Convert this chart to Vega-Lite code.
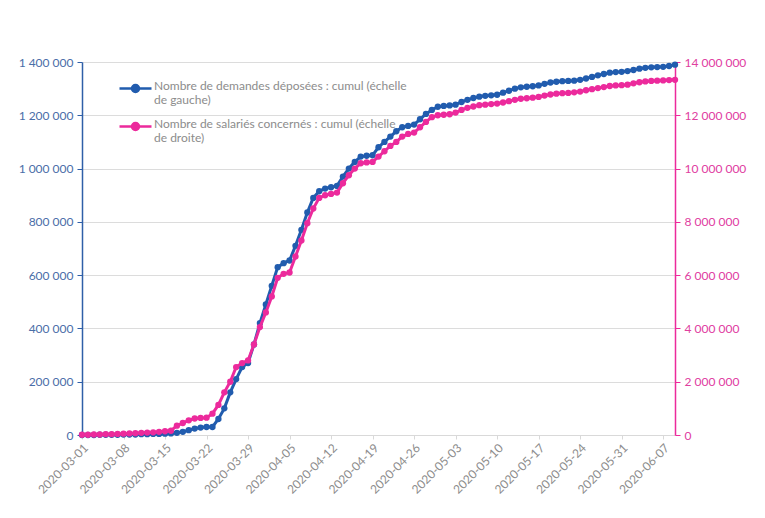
{
  "$schema": "https://vega.github.io/schema/vega-lite/v6.json",
  "width": 593,
  "height": 373,
  "autosize": {"type": "none"},
  "padding": {"left": 82, "top": 62, "right": 90, "bottom": 83},
  "background": "white",
  "config": {
    "font": "Lato",
    "view": {"stroke": null},
    "axis": {"labelFont": "Lato", "labelFontSize": 12}
  },
  "data": {
    "values": [
      {"date": "2020-03-01", "demandes": 0, "salaries": 10000},
      {"date": "2020-03-02", "demandes": 0, "salaries": 10000},
      {"date": "2020-03-03", "demandes": 0, "salaries": 20000},
      {"date": "2020-03-04", "demandes": 1000, "salaries": 20000},
      {"date": "2020-03-05", "demandes": 1000, "salaries": 30000},
      {"date": "2020-03-06", "demandes": 1000, "salaries": 30000},
      {"date": "2020-03-07", "demandes": 1000, "salaries": 40000},
      {"date": "2020-03-08", "demandes": 2000, "salaries": 50000},
      {"date": "2020-03-09", "demandes": 2000, "salaries": 60000},
      {"date": "2020-03-10", "demandes": 2000, "salaries": 70000},
      {"date": "2020-03-11", "demandes": 3000, "salaries": 80000},
      {"date": "2020-03-12", "demandes": 3000, "salaries": 90000},
      {"date": "2020-03-13", "demandes": 4000, "salaries": 100000},
      {"date": "2020-03-14", "demandes": 4000, "salaries": 120000},
      {"date": "2020-03-15", "demandes": 5000, "salaries": 140000},
      {"date": "2020-03-16", "demandes": 6000, "salaries": 160000},
      {"date": "2020-03-17", "demandes": 8000, "salaries": 350000},
      {"date": "2020-03-18", "demandes": 12000, "salaries": 450000},
      {"date": "2020-03-19", "demandes": 18000, "salaries": 550000},
      {"date": "2020-03-20", "demandes": 24000, "salaries": 620000},
      {"date": "2020-03-21", "demandes": 28000, "salaries": 640000},
      {"date": "2020-03-22", "demandes": 30000, "salaries": 650000},
      {"date": "2020-03-23", "demandes": 30000, "salaries": 800000},
      {"date": "2020-03-24", "demandes": 60000, "salaries": 1130000},
      {"date": "2020-03-25", "demandes": 100000, "salaries": 1600000},
      {"date": "2020-03-26", "demandes": 160000, "salaries": 2000000},
      {"date": "2020-03-27", "demandes": 210000, "salaries": 2550000},
      {"date": "2020-03-28", "demandes": 255000, "salaries": 2700000},
      {"date": "2020-03-29", "demandes": 270000, "salaries": 2800000},
      {"date": "2020-03-30", "demandes": 340000, "salaries": 3400000},
      {"date": "2020-03-31", "demandes": 420000, "salaries": 4050000},
      {"date": "2020-04-01", "demandes": 490000, "salaries": 4600000},
      {"date": "2020-04-02", "demandes": 560000, "salaries": 5200000},
      {"date": "2020-04-03", "demandes": 630000, "salaries": 5900000},
      {"date": "2020-04-04", "demandes": 645000, "salaries": 6050000},
      {"date": "2020-04-05", "demandes": 655000, "salaries": 6100000},
      {"date": "2020-04-06", "demandes": 710000, "salaries": 6700000},
      {"date": "2020-04-07", "demandes": 770000, "salaries": 7300000},
      {"date": "2020-04-08", "demandes": 835000, "salaries": 7950000},
      {"date": "2020-04-09", "demandes": 890000, "salaries": 8500000},
      {"date": "2020-04-10", "demandes": 915000, "salaries": 8900000},
      {"date": "2020-04-11", "demandes": 925000, "salaries": 9000000},
      {"date": "2020-04-12", "demandes": 930000, "salaries": 9050000},
      {"date": "2020-04-13", "demandes": 935000, "salaries": 9100000},
      {"date": "2020-04-14", "demandes": 970000, "salaries": 9450000},
      {"date": "2020-04-15", "demandes": 1000000, "salaries": 9750000},
      {"date": "2020-04-16", "demandes": 1025000, "salaries": 10000000},
      {"date": "2020-04-17", "demandes": 1045000, "salaries": 10200000},
      {"date": "2020-04-18", "demandes": 1048000, "salaries": 10230000},
      {"date": "2020-04-19", "demandes": 1050000, "salaries": 10250000},
      {"date": "2020-04-20", "demandes": 1080000, "salaries": 10450000},
      {"date": "2020-04-21", "demandes": 1100000, "salaries": 10650000},
      {"date": "2020-04-22", "demandes": 1120000, "salaries": 10850000},
      {"date": "2020-04-23", "demandes": 1140000, "salaries": 11000000},
      {"date": "2020-04-24", "demandes": 1155000, "salaries": 11200000},
      {"date": "2020-04-25", "demandes": 1160000, "salaries": 11300000},
      {"date": "2020-04-26", "demandes": 1165000, "salaries": 11350000},
      {"date": "2020-04-27", "demandes": 1185000, "salaries": 11550000},
      {"date": "2020-04-28", "demandes": 1205000, "salaries": 11750000},
      {"date": "2020-04-29", "demandes": 1220000, "salaries": 11930000},
      {"date": "2020-04-30", "demandes": 1232000, "salaries": 12000000},
      {"date": "2020-05-01", "demandes": 1235000, "salaries": 12020000},
      {"date": "2020-05-02", "demandes": 1237000, "salaries": 12040000},
      {"date": "2020-05-03", "demandes": 1240000, "salaries": 12100000},
      {"date": "2020-05-04", "demandes": 1250000, "salaries": 12200000},
      {"date": "2020-05-05", "demandes": 1258000, "salaries": 12280000},
      {"date": "2020-05-06", "demandes": 1265000, "salaries": 12330000},
      {"date": "2020-05-07", "demandes": 1270000, "salaries": 12380000},
      {"date": "2020-05-08", "demandes": 1273000, "salaries": 12400000},
      {"date": "2020-05-09", "demandes": 1275000, "salaries": 12420000},
      {"date": "2020-05-10", "demandes": 1277000, "salaries": 12440000},
      {"date": "2020-05-11", "demandes": 1285000, "salaries": 12480000},
      {"date": "2020-05-12", "demandes": 1292000, "salaries": 12530000},
      {"date": "2020-05-13", "demandes": 1300000, "salaries": 12580000},
      {"date": "2020-05-14", "demandes": 1305000, "salaries": 12620000},
      {"date": "2020-05-15", "demandes": 1307000, "salaries": 12640000},
      {"date": "2020-05-16", "demandes": 1309000, "salaries": 12660000},
      {"date": "2020-05-17", "demandes": 1312000, "salaries": 12690000},
      {"date": "2020-05-18", "demandes": 1318000, "salaries": 12740000},
      {"date": "2020-05-19", "demandes": 1323000, "salaries": 12780000},
      {"date": "2020-05-20", "demandes": 1326000, "salaries": 12810000},
      {"date": "2020-05-21", "demandes": 1328000, "salaries": 12830000},
      {"date": "2020-05-22", "demandes": 1329000, "salaries": 12840000},
      {"date": "2020-05-23", "demandes": 1330000, "salaries": 12860000},
      {"date": "2020-05-24", "demandes": 1333000, "salaries": 12890000},
      {"date": "2020-05-25", "demandes": 1338000, "salaries": 12940000},
      {"date": "2020-05-26", "demandes": 1344000, "salaries": 12980000},
      {"date": "2020-05-27", "demandes": 1350000, "salaries": 13020000},
      {"date": "2020-05-28", "demandes": 1355000, "salaries": 13060000},
      {"date": "2020-05-29", "demandes": 1360000, "salaries": 13100000},
      {"date": "2020-05-30", "demandes": 1362000, "salaries": 13120000},
      {"date": "2020-05-31", "demandes": 1363000, "salaries": 13130000},
      {"date": "2020-06-01", "demandes": 1366000, "salaries": 13150000},
      {"date": "2020-06-02", "demandes": 1370000, "salaries": 13200000},
      {"date": "2020-06-03", "demandes": 1375000, "salaries": 13240000},
      {"date": "2020-06-04", "demandes": 1378000, "salaries": 13270000},
      {"date": "2020-06-05", "demandes": 1380000, "salaries": 13290000},
      {"date": "2020-06-06", "demandes": 1381000, "salaries": 13300000},
      {"date": "2020-06-07", "demandes": 1382000, "salaries": 13310000},
      {"date": "2020-06-08", "demandes": 1385000, "salaries": 13320000},
      {"date": "2020-06-09", "demandes": 1390000, "salaries": 13330000}
    ]
  },
  "encoding": {
    "x": {
      "field": "date",
      "type": "temporal",
      "title": null,
      "scale": {
        "type": "utc",
        "domain": [
          {"year": 2020, "month": 3, "date": 1, "utc": true},
          {"year": 2020, "month": 6, "date": 9, "utc": true}
        ]
      },
      "axis": {
        "values": [
          {"year": 2020, "month": 3, "date": 1, "utc": true},
          {"year": 2020, "month": 3, "date": 8, "utc": true},
          {"year": 2020, "month": 3, "date": 15, "utc": true},
          {"year": 2020, "month": 3, "date": 22, "utc": true},
          {"year": 2020, "month": 3, "date": 29, "utc": true},
          {"year": 2020, "month": 4, "date": 5, "utc": true},
          {"year": 2020, "month": 4, "date": 12, "utc": true},
          {"year": 2020, "month": 4, "date": 19, "utc": true},
          {"year": 2020, "month": 4, "date": 26, "utc": true},
          {"year": 2020, "month": 5, "date": 3, "utc": true},
          {"year": 2020, "month": 5, "date": 10, "utc": true},
          {"year": 2020, "month": 5, "date": 17, "utc": true},
          {"year": 2020, "month": 5, "date": 24, "utc": true},
          {"year": 2020, "month": 5, "date": 31, "utc": true},
          {"year": 2020, "month": 6, "date": 7, "utc": true}
        ],
        "labelExpr": "utcFormat(datum.value, '%Y-%m-%d')",
        "labelAngle": 315,
        "labelAlign": "right",
        "labelBaseline": "top",
        "labelPadding": 3,
        "labelColor": "#8c8c8c",
        "labelFontSize": 12,
        "domainColor": "#d9d9d9",
        "tickColor": "#d9d9d9",
        "tickSize": 4,
        "grid": false,
        "labelOverlap": false
      }
    }
  },
  "layer": [
    {
      "mark": {"type": "line", "strokeWidth": 3, "point": {"filled": true, "size": 40}},
      "encoding": {
        "y": {
          "field": "demandes",
          "type": "quantitative",
          "title": null,
          "scale": {"domain": [0, 1400000], "nice": false},
          "axis": {
            "orient": "left",
            "values": [0, 200000, 400000, 600000, 800000, 1000000, 1200000, 1400000],
            "labelExpr": "replace(replace(format(datum.value, ','), ',', ' '), ',', ' ')",
            "labelColor": "#4a6ea8",
            "labelFontSize": 12,
            "domainColor": "#2f5fa8",
            "domainWidth": 1.5,
            "tickColor": "#2f5fa8",
            "tickSize": 5,
            "labelPadding": 4,
            "grid": true,
            "gridColor": "#dcdcdc"
          }
        },
        "color": {
          "datum": "Nombre de demandes déposées : cumul (échelle de gauche)",
          "type": "nominal",
          "scale": {
            "domain": ["Nombre de demandes déposées : cumul (échelle de gauche)", "Nombre de salariés concernés : cumul (échelle de droite)"],
            "range": ["#215cae", "#ec2a9c"]
          },
          "legend": {
            "orient": "none",
            "legendX": 36,
            "legendY": 9,
            "title": null,
            "symbolType": "M-1,0L1,0M-0.22,0A0.22,0.22,0,1,1,0.22,0A0.22,0.22,0,1,1,-0.22,0Z",
            "symbolSize": 1024,
            "symbolStrokeWidth": 2.5,
            "labelFont": "Lato",
            "labelFontSize": 12,
            "labelColor": "#8c8c8c",
            "labelLimit": 400,
            "labelOffset": 1,
            "rowPadding": 3,
            "labelExpr": "indexof(datum.label, 'gauche') >= 0 ? ['Nombre de demandes déposées : cumul (échelle', 'de gauche)'] : ['Nombre de salariés concernés : cumul (échelle', 'de droite)']",
            "labelBaseline": "top",
            "encode": {
              "symbols": {"update": {"fill": {"scale": "color", "field": "value"}}},
              "labels": {"update": {"dy": {"value": -8}}}
            }
          }
        }
      }
    },
    {
      "mark": {"type": "line", "strokeWidth": 3, "point": {"filled": true, "size": 40}},
      "encoding": {
        "y": {
          "field": "salaries",
          "type": "quantitative",
          "title": null,
          "scale": {"domain": [0, 14000000], "nice": false},
          "axis": {
            "orient": "right",
            "values": [0, 2000000, 4000000, 6000000, 8000000, 10000000, 12000000, 14000000],
            "labelExpr": "replace(replace(format(datum.value, ','), ',', ' '), ',', ' ')",
            "labelColor": "#e0409f",
            "labelFontSize": 12,
            "domainColor": "#ec2a9c",
            "domainWidth": 1.5,
            "tickColor": "#ec2a9c",
            "tickSize": 5,
            "labelPadding": 4,
            "grid": false
          }
        },
        "color": {
          "datum": "Nombre de salariés concernés : cumul (échelle de droite)",
          "type": "nominal",
          "scale": {
            "domain": ["Nombre de demandes déposées : cumul (échelle de gauche)", "Nombre de salariés concernés : cumul (échelle de droite)"],
            "range": ["#215cae", "#ec2a9c"]
          }
        }
      }
    }
  ],
  "resolve": {"scale": {"y": "independent"}}
}
